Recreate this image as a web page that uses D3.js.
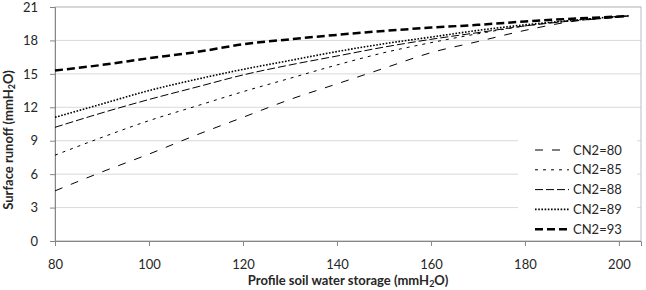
<!DOCTYPE html>
<html>
<head>
<meta charset="utf-8">
<script src="https://cdn.jsdelivr.net/npm/d3@7"></script>
<style>
  body { margin: 0; background: #fff; }
  text { font-family: Lato, "Open Sans", sans-serif; fill: #262626; }
</style>
</head>
<body>
<script>
// storage values (x) shared by all curves
var storage = [80, 90, 100, 110, 120, 130, 140, 150, 160, 170, 180, 190, 200, 202];

var cn80 = [4.5, 6.2, 7.8, 9.5, 11.1, 12.7, 14.1, 15.5, 16.9, 17.9, 18.9, 19.7, 20.1, 20.2];
var cn85 = [7.7, 9.3, 10.8, 12.1, 13.4, 14.6, 15.8, 16.9, 17.8, 18.6, 19.3, 19.8, 20.15, 20.2];
var cn88 = [10.2, 11.5, 12.7, 13.8, 14.9, 15.8, 16.6, 17.4, 18.1, 18.7, 19.3, 19.75, 20.1, 20.2];
var cn89 = [11.1, 12.3, 13.5, 14.5, 15.4, 16.2, 17.0, 17.7, 18.3, 18.9, 19.4, 19.8, 20.15, 20.2];
var cn93 = [15.3, 15.8, 16.4, 16.95, 17.65, 18.1, 18.5, 18.85, 19.15, 19.4, 19.7, 19.95, 20.15, 20.2];

var seriesNames = ["CN2=80", "CN2=85", "CN2=88", "CN2=89", "CN2=93"];
var xTicks = [80, 100, 120, 140, 160, 180, 200];
var yTicks = [0, 3, 6, 9, 12, 15, 18, 21];

var margin = {top: 7, right: 5, bottom: 49, left: 55},
    width = 646 - margin.left - margin.right,
    height = 290 - margin.top - margin.bottom;

var svg = d3.select("body").append("svg")
  .attr("width", 646)
  .attr("height", 290);

var g = svg.append("g")
  .attr("transform", "translate(" + margin.left + "," + margin.top + ")");

var x = d3.scaleLinear().domain([80, 204.7]).range([0, width]);
var y = d3.scaleLinear().domain([0, 21]).range([height, 0]);

// gridlines
g.selectAll(".grid")
  .data(yTicks)
  .enter().append("line")
  .attr("x1", 0).attr("x2", width)
  .attr("y1", d => y(d)).attr("y2", d => y(d))
  .attr("stroke", "#d9d9d9")
  .attr("stroke-width", 1);

// plot border
g.append("rect")
  .attr("width", width).attr("height", height)
  .attr("fill", "none")
  .attr("stroke", "#bfbfbf");

// axes
var xAxis = g.append("g")
  .attr("transform", "translate(0," + height + ")")
  .call(d3.axisBottom(x).tickValues(xTicks).tickSize(5).tickPadding(14));
var yAxis = g.append("g")
  .call(d3.axisLeft(y).tickValues(yTicks).tickSize(5).tickPadding(12));

[xAxis, yAxis].forEach(function(a) {
  a.select(".domain").attr("stroke", "#868686");
  a.selectAll(".tick line").attr("stroke", "#868686");
  a.selectAll(".tick text").style("font-size", "13px").attr("fill", "#262626");
});

// curves
var allSeries = [cn80, cn85, cn88, cn89, cn93];
var styles = [
  {dash: "8,9", w: 1},
  {dash: "3,5", w: 1},
  {dash: "8,3", w: 1},
  {dash: "1.6,1.6", w: 1.6},
  {dash: "8,4", w: 2.5}
];

var line = d3.line()
  .x((d, i) => x(storage[i]))
  .y(d => y(d))
  .curve(d3.curveMonotoneX);

g.selectAll(".curve")
  .data(allSeries)
  .enter().append("path")
  .attr("fill", "none")
  .attr("stroke", "#000")
  .attr("stroke-width", (d, i) => styles[i].w)
  .attr("stroke-dasharray", (d, i) => styles[i].dash)
  .attr("d", d => line(d));

// legend
var legend = svg.append("g").attr("transform", "translate(518,137)");
legend.append("rect")
  .attr("width", 119).attr("height", 103)
  .attr("fill", "#fff");

seriesNames.forEach(function(name, i) {
  var row = legend.append("g")
    .attr("transform", "translate(0," + (13 + i * 19.8) + ")");
  row.append("line")
    .attr("x1", 17).attr("x2", 51)
    .attr("stroke", "#000")
    .attr("stroke-width", styles[i].w)
    .attr("stroke-dasharray", styles[i].dash);
  row.append("text")
    .attr("x", 55)
    .attr("dy", "0.35em")
    .style("font-size", "13px")
    .text(name);
});

// axis titles
svg.append("text")
  .attr("x", 348)
  .attr("y", 285)
  .attr("text-anchor", "middle")
  .style("font-size", "13px")
  .style("font-weight", "bold")
  .html("Profile soil water storage (mmH<tspan dy='2' font-size='9px'>2</tspan><tspan dy='-2'>O)</tspan>");

svg.append("text")
  .attr("transform", "translate(13,140) rotate(-90)")
  .attr("text-anchor", "middle")
  .style("font-size", "13px")
  .style("font-weight", "bold")
  .html("Surface runoff (mmH<tspan dy='2' font-size='9px'>2</tspan><tspan dy='-2'>O)</tspan>");
</script>
</body>
</html>
